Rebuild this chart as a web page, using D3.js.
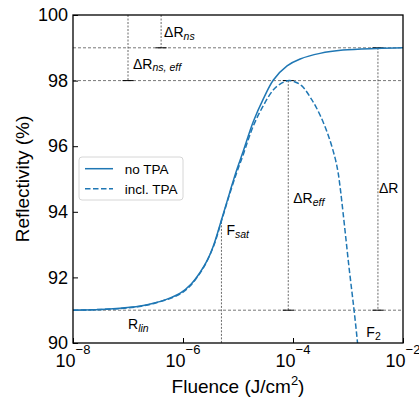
<!DOCTYPE html>
<html>
<head>
<meta charset="utf-8">
<script src="https://cdn.jsdelivr.net/npm/d3@7"></script>
<style>
  body { margin: 0; background: #fff; }
  text { font-family: "Liberation Sans", Arial, sans-serif; fill: #000; }
</style>
</head>
<body>
<div id="chart"></div>
<script>
// values: fluence in J/cm2, reflectivity in %
const noTpaFluence = [1.0e-8, 3.16e-8, 7.1e-8, 1.58e-7, 2.9e-7, 5.0e-7, 8.9e-7, 1.41e-6, 2.04e-6, 2.82e-6,
  3.55e-6, 5.0e-6, 7.1e-6, 9.5e-6, 1.23e-5, 1.9e-5, 2.9e-5, 4.4e-5, 7.8e-5, 1.35e-4, 3.1e-4, 8.1e-4, 3.3e-3, 1.0e-2]
const noTpaR = [91.00, 91.02, 91.06, 91.12, 91.21, 91.33, 91.52, 91.80, 92.15, 92.55,
  92.95, 93.75, 94.60, 95.28, 95.82, 96.75, 97.45, 98.02, 98.45, 98.66, 98.83, 98.93, 98.98, 99.00]

const tpaFluence = [1.0e-8, 1.0e-7, 3.16e-7, 1.0e-6, 2.04e-6, 3.55e-6, 5.0e-6, 7.1e-6, 9.5e-6, 1.23e-5,
  1.9e-5, 2.9e-5, 4.4e-5, 6.3e-5, 8.5e-5, 1.12e-4, 1.45e-4, 2.19e-4, 3.1e-4, 4.4e-4,
  5.8e-4, 6.6e-4, 7.3e-4, 8.1e-4, 9.2e-4, 1.04e-3, 1.18e-3, 1.30e-3, 1.48e-3, 1.58e-3]
const tpaR = [91.00, 91.07, 91.22, 91.55, 92.13, 92.93, 93.72, 94.56, 95.20, 95.72,
  96.62, 97.24, 97.72, 97.93, 98.00, 97.95, 97.84, 97.42, 96.95, 96.32,
  95.65, 95.20, 94.66, 94.00, 93.15, 92.33, 91.55, 90.95, 90.05, 89.50]

const yTicks = [90, 92, 94, 96, 98, 100]
const xTicks = [1e-8, 1e-6, 1e-4, 1e-2]
const xTickExp = ['−8', '−6', '−4', '−2']

const refLevels = [99, 98, 91]

// vertical markers
const markerFluence = [4.0e-7, 1.0e-7, 8.2e-5, 3.5e-3, 5.0e-6]
const markerTop = [100, 100, 98, 99, 93.8]
const markerBottom = [99, 98, 91, 91, 90]
const markerCaps = [[99], [98], [98, 91], [99, 91], []]

const width = 419,
      height = 400,
      margin = {left: 73, right: 16, top: 15, bottom: 57}

let svg = d3.select('#chart')
  .append('svg')
  .attr('width', width)
  .attr('height', height)

let x = d3.scaleLog()
  .domain([1e-8, 1e-2])
  .range([margin.left, width - margin.right])

let y = d3.scaleLinear()
  .domain([90, 100])
  .range([height - margin.bottom, margin.top])

const blue = '#1f77b4'

svg.append('clipPath').attr('id', 'clip')
  .append('rect')
  .attr('x', x.range()[0]).attr('y', y.range()[1])
  .attr('width', x.range()[1] - x.range()[0])
  .attr('height', y.range()[0] - y.range()[1])

// reference levels
svg.selectAll('.ref')
  .data(refLevels)
  .enter()
  .append('line')
  .attr('class', 'ref')
  .attr('x1', x.range()[0]).attr('x2', x.range()[1])
  .attr('y1', d => y(d)).attr('y2', d => y(d))
  .attr('stroke', '#555')
  .attr('stroke-width', 0.8)
  .attr('stroke-dasharray', '3,2')

// vertical markers
markerFluence.forEach((f, i) => {
  svg.append('line')
    .attr('x1', x(f)).attr('x2', x(f))
    .attr('y1', y(markerTop[i])).attr('y2', y(markerBottom[i]))
    .attr('stroke', '#444')
    .attr('stroke-width', 0.8)
    .attr('stroke-dasharray', '2,1.5')
  markerCaps[i].forEach(c => {
    svg.append('line')
      .attr('x1', x(f) - 5.5).attr('x2', x(f) + 5.5)
      .attr('y1', y(c)).attr('y2', y(c))
      .attr('stroke', '#000')
      .attr('stroke-width', 1)
  })
})

// curves
let line = d3.line()
  .x(d => x(d[0]))
  .y(d => y(d[1]))
  .curve(d3.curveCatmullRom.alpha(0.5))

svg.append('path')
  .datum(noTpaFluence.map((f, i) => [f, noTpaR[i]]))
  .attr('d', line)
  .attr('fill', 'none')
  .attr('stroke', blue)
  .attr('stroke-width', 1.5)
  .attr('clip-path', 'url(#clip)')

svg.append('path')
  .datum(tpaFluence.map((f, i) => [f, tpaR[i]]))
  .attr('d', line)
  .attr('fill', 'none')
  .attr('stroke', blue)
  .attr('stroke-width', 1.5)
  .attr('stroke-dasharray', '5.5,2.5')
  .attr('clip-path', 'url(#clip)')

// annotation labels
let label = (lx, ly, main, sub, italic) => {
  let t = svg.append('text')
    .attr('x', lx).attr('y', ly)
    .style('font-size', '14px')
  t.append('tspan').text(main)
  t.append('tspan')
    .attr('dy', 2.5)
    .style('font-size', '10.5px')
    .style('font-style', italic ? 'italic' : 'normal')
    .text(sub)
}

label(x(markerFluence[0]) + 3, y(99) - 10.5, 'ΔR', 'ns', true)
label(x(markerFluence[1]) + 5, y(98) - 12, 'ΔR', 'ns, eff', true)
label(x(markerFluence[2]) + 5, y(94.5) + 8, 'ΔR', 'eff', true)
svg.append('text')
  .attr('x', x(markerFluence[3]) + 1).attr('y', y(95) + 13.7)
  .style('font-size', '14px')
  .text('ΔR')
label(x(markerFluence[4]) + 5, y(markerTop[4]) + 17, 'F', 'sat', true)
label(x(1e-7), y(91) + 19, 'R', 'lin', true)
label(x(1.48e-3) + 9, y(90) - 6, 'F', '2', false)

// axes
let yAxis = svg.append('g')
  .attr('transform', `translate(${x.range()[0]},0)`)
  .call(d3.axisLeft(y)
    .tickValues(yTicks)
    .tickSizeInner(-5)
    .tickSizeOuter(0)
    .tickPadding(5))
yAxis.select('.domain').remove()
yAxis.selectAll('text')
  .style('font-size', '18px')
  .style('font-family', '"Liberation Sans", Arial, sans-serif')
yAxis.selectAll('line').attr('stroke', '#000').attr('stroke-width', 1)

let xAxis = svg.append('g')
  .attr('transform', `translate(0,${y.range()[0]})`)
  .call(d3.axisBottom(x)
    .tickValues(xTicks)
    .tickFormat('')
    .tickSizeInner(-5)
    .tickSizeOuter(0))
xAxis.select('.domain').remove()
xAxis.selectAll('line').attr('stroke', '#000').attr('stroke-width', 1)

xTicks.forEach((t, i) => {
  let tl = svg.append('text')
    .attr('x', x(t))
    .attr('y', 366.5)
    .attr('text-anchor', 'middle')
    .style('font-size', '18px')
  tl.append('tspan').text('10')
  tl.append('tspan')
    .attr('dy', -13)
    .style('font-size', '13px')
    .text(xTickExp[i])
})

// frame
svg.append('rect')
  .attr('x', x.range()[0]).attr('y', y.range()[1])
  .attr('width', x.range()[1] - x.range()[0])
  .attr('height', y.range()[0] - y.range()[1])
  .attr('fill', 'none')
  .attr('stroke', '#000')
  .attr('stroke-width', 1.3)

// axis titles
let xt = svg.append('text')
  .attr('x', (x.range()[0] + x.range()[1]) / 2)
  .attr('y', 393)
  .attr('text-anchor', 'middle')
  .style('font-size', '19px')
xt.append('tspan').text('Fluence (J/cm')
xt.append('tspan').attr('dy', -8).style('font-size', '13px').text('2')
xt.append('tspan').attr('dy', 8).text(')')

svg.append('text')
  .attr('transform', `translate(29,${(y.range()[0] + y.range()[1]) / 2}) rotate(-90)`)
  .attr('text-anchor', 'middle')
  .style('font-size', '19px')
  .text('Reflectivity (%)')

// legend, centre left
const legendX = x.range()[0] + 6,
      legendY = (y.range()[0] + y.range()[1]) / 2 - 22
let legend = svg.append('g').attr('transform', `translate(${legendX},${legendY})`)
legend.append('rect')
  .attr('width', 104).attr('height', 43).attr('rx', 3)
  .attr('fill', '#fff').attr('fill-opacity', 0.8)
  .attr('stroke', '#ccc').attr('stroke-width', 0.8)
const legendNames = ['no TPA', 'incl. TPA']
legendNames.forEach((n, i) => {
  legend.append('line')
    .attr('x1', 6).attr('x2', 34)
    .attr('y1', 11.7 + i * 20).attr('y2', 11.7 + i * 20)
    .attr('stroke', blue).attr('stroke-width', 1.5)
    .attr('stroke-dasharray', i ? '5.5,2.5' : null)
  legend.append('text')
    .attr('x', 45.7).attr('y', 16.8 + i * 20)
    .style('font-size', '13.5px')
    .text(n)
})
</script>
</body>
</html>
